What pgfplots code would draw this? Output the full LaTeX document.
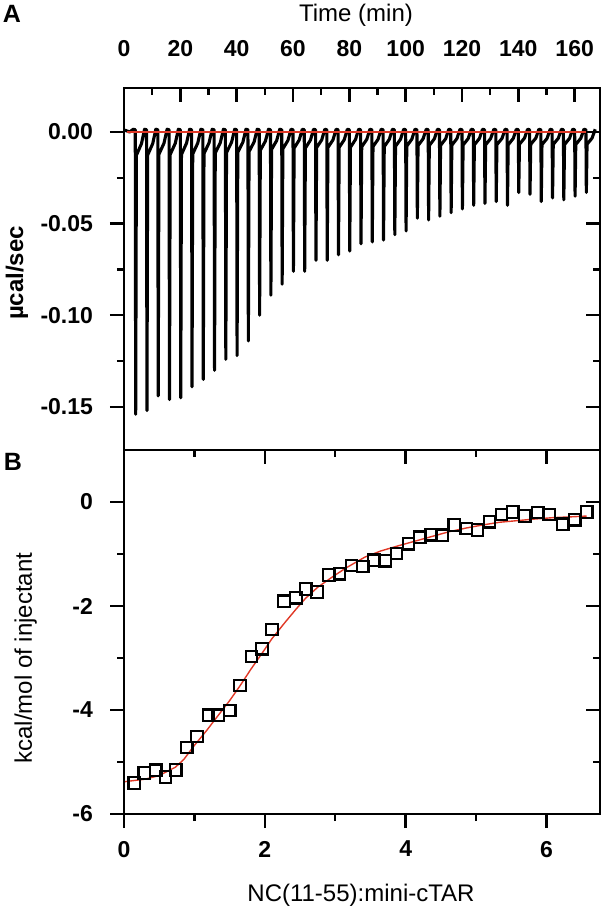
\documentclass[border=0pt]{standalone}
\usepackage{fontspec}
\setmainfont{Liberation Sans}
\usepackage{pgfplots}
\pgfplotsset{compat=1.18}
\definecolor{fitred}{rgb}{0.88,0.22,0.15}

\pgfplotstableread{
t y
0.30 0.0010
2.00 0.0000
3.30 0.0015
4.00 0.0012
4.15 -0.154
4.40 -0.0127
6.20 -0.0064
7.30 0.0015
8.00 0.0012
8.15 -0.152
8.40 -0.0126
10.20 -0.0063
11.30 0.0015
12.00 0.0012
12.15 -0.144
12.40 -0.0122
14.20 -0.0061
15.30 0.0015
16.00 0.0012
16.15 -0.146
16.40 -0.0123
18.20 -0.0062
19.30 0.0015
20.00 0.0012
20.15 -0.145
20.40 -0.0123
22.20 -0.0061
23.30 0.0015
24.00 0.0012
24.15 -0.139
24.40 -0.0120
26.20 -0.0060
27.30 0.0015
28.00 0.0012
28.15 -0.135
28.40 -0.0118
30.20 -0.0059
31.30 0.0015
32.00 0.0012
32.15 -0.130
32.40 -0.0115
34.20 -0.0058
35.30 0.0015
36.00 0.0012
36.15 -0.124
36.40 -0.0112
38.20 -0.0056
39.30 0.0015
40.00 0.0012
40.15 -0.122
40.40 -0.0111
42.20 -0.0056
43.30 0.0015
44.00 0.0012
44.15 -0.114
44.40 -0.0107
46.20 -0.0054
47.30 0.0015
48.00 0.0012
48.15 -0.100
48.40 -0.0100
50.20 -0.0050
51.30 0.0015
52.00 0.0012
52.15 -0.089
52.40 -0.0095
54.20 -0.0047
55.30 0.0015
56.00 0.0012
56.15 -0.083
56.40 -0.0092
58.20 -0.0046
59.30 0.0015
60.00 0.0012
60.15 -0.076
60.40 -0.0088
62.20 -0.0044
63.30 0.0015
64.00 0.0012
64.15 -0.076
64.40 -0.0088
66.20 -0.0044
67.30 0.0015
68.00 0.0012
68.15 -0.070
68.40 -0.0085
70.20 -0.0043
71.30 0.0015
72.00 0.0012
72.15 -0.070
72.40 -0.0085
74.20 -0.0043
75.30 0.0015
76.00 0.0012
76.15 -0.067
76.40 -0.0084
78.20 -0.0042
79.30 0.0015
80.00 0.0012
80.15 -0.065
80.40 -0.0083
82.20 -0.0041
83.30 0.0015
84.00 0.0012
84.15 -0.061
84.40 -0.0081
86.20 -0.0040
87.30 0.0015
88.00 0.0012
88.15 -0.060
88.40 -0.0080
90.20 -0.0040
91.30 0.0015
92.00 0.0012
92.15 -0.059
92.40 -0.0080
94.20 -0.0040
95.30 0.0015
96.00 0.0012
96.15 -0.056
96.40 -0.0078
98.20 -0.0039
99.30 0.0015
100.00 0.0012
100.15 -0.054
100.40 -0.0077
102.20 -0.0039
103.30 0.0015
104.00 0.0012
104.15 -0.047
104.40 -0.0074
106.20 -0.0037
107.30 0.0015
108.00 0.0012
108.15 -0.048
108.40 -0.0074
110.20 -0.0037
111.30 0.0015
112.00 0.0012
112.15 -0.046
112.40 -0.0073
114.20 -0.0037
115.30 0.0015
116.00 0.0012
116.15 -0.044
116.40 -0.0072
118.20 -0.0036
119.30 0.0015
120.00 0.0012
120.15 -0.042
120.40 -0.0071
122.20 -0.0036
123.30 0.0015
124.00 0.0012
124.15 -0.040
124.40 -0.0070
126.20 -0.0035
127.30 0.0015
128.00 0.0012
128.15 -0.039
128.40 -0.0070
130.20 -0.0035
131.30 0.0015
132.00 0.0012
132.15 -0.038
132.40 -0.0069
134.20 -0.0035
135.30 0.0015
136.00 0.0012
136.15 -0.040
136.40 -0.0070
138.20 -0.0035
139.30 0.0015
140.00 0.0012
140.15 -0.033
140.40 -0.0067
142.20 -0.0033
143.30 0.0015
144.00 0.0012
144.15 -0.034
144.40 -0.0067
146.20 -0.0034
147.30 0.0015
148.00 0.0012
148.15 -0.038
148.40 -0.0069
150.20 -0.0035
151.30 0.0015
152.00 0.0012
152.15 -0.036
152.40 -0.0068
154.20 -0.0034
155.30 0.0015
156.00 0.0012
156.15 -0.037
156.40 -0.0069
158.20 -0.0034
159.30 0.0015
160.00 0.0012
160.15 -0.035
160.40 -0.0068
162.20 -0.0034
163.30 0.0015
164.00 0.0012
164.15 -0.033
164.40 -0.0067
166.20 -0.0033
167.30 0.0015
}\rawtrace

\pgfplotstableread{
x y
0.147 -5.40
0.289 -5.21
0.450 -5.16
0.590 -5.29
0.735 -5.15
0.890 -4.72
1.035 -4.51
1.200 -4.10
1.340 -4.10
1.500 -4.01
1.650 -3.53
1.810 -2.97
1.960 -2.82
2.100 -2.45
2.270 -1.91
2.440 -1.84
2.580 -1.67
2.740 -1.73
2.910 -1.40
3.060 -1.38
3.230 -1.22
3.390 -1.24
3.550 -1.12
3.710 -1.13
3.870 -0.99
4.040 -0.80
4.200 -0.68
4.360 -0.63
4.520 -0.64
4.690 -0.44
4.860 -0.51
5.020 -0.54
5.190 -0.38
5.360 -0.24
5.520 -0.19
5.690 -0.27
5.880 -0.20
6.040 -0.24
6.230 -0.43
6.400 -0.34
6.570 -0.19
}\heats

\pgfplotstableread{
x y
0.00 -5.38
0.30 -5.33
0.50 -5.26
0.73 -5.10
0.85 -4.95
1.00 -4.68
1.17 -4.40
1.34 -4.10
1.50 -3.82
1.65 -3.53
1.80 -3.22
1.95 -2.93
2.10 -2.63
2.29 -2.31
2.45 -2.05
2.58 -1.85
2.75 -1.64
2.95 -1.45
3.15 -1.27
3.42 -1.06
3.65 -0.94
3.90 -0.84
4.14 -0.75
4.38 -0.66
4.62 -0.57
4.86 -0.50
5.10 -0.44
5.33 -0.39
5.57 -0.36
5.81 -0.33
6.10 -0.30
6.35 -0.285
6.57 -0.27
}\fit

\begin{document}
\begin{tikzpicture}
\path[use as bounding box] (0pt,0pt) rectangle (304pt,-457pt);
\pgfplotsset{
  every axis/.append style={
    scale only axis, width=238pt,
    axis line style={line width=1.2pt},
    every tick/.style={line width=1.2pt, black},
    major tick length=7pt, minor tick length=3.5pt,
    ticklabel style={font=\fontsize{11.5}{13}\selectfont\bfseries},
    /pgf/number format/assume math mode=true,
    clip=true,
  }
}
% ---------- Panel A ----------
\begin{axis}[at={(62pt,-225pt)}, anchor=south west, height=181pt,
  xmin=0, xmax=169, ymin=-0.1735, ymax=0.024,
  xtick={0,20,...,160}, minor xtick={10,30,...,150},
  xtick pos=right, xticklabel pos=right, xtick align=inside,
  xticklabel style={yshift=12pt},
  ytick={-0.15,-0.10,-0.05,0}, yticklabels={-0.15,-0.10,-0.05,0.00},
  minor ytick={-0.125,-0.075,-0.025},
  ytick pos=left, ytick align=outside,
  yticklabel style={xshift=-5pt},
]
\addplot[black, line width=1.55pt, line join=round] table[x=t,y=y] {\rawtrace};
\addplot[fitred, line width=1.1pt] coordinates {(1,0) (166.2,0)};
\end{axis}
\begin{axis}[at={(62pt,-225pt)}, anchor=south west, height=181pt,
  xmin=0, xmax=169, ymin=-0.1735, ymax=0.024,
  xtick=\empty,
  ytick={-0.15,-0.10,-0.05,0}, minor ytick={-0.125,-0.075,-0.025},
  yticklabels={}, ytick pos=right, ytick align=inside,
]
\end{axis}
% ---------- Panel B ----------
\begin{axis}[at={(62pt,-407pt)}, anchor=south west, height=182pt,
  xmin=0, xmax=6.76, ymin=-6, ymax=1,
  xtick={0,2,4,6}, minor xtick={1,3,5},
  xtick pos=left, xtick align=outside,
  xticklabel style={yshift=-3pt},
  ytick={-6,-4,-2,0}, minor ytick={-5,-3,-1},
  ytick pos=left, ytick align=outside,
  yticklabel style={xshift=-5pt},
]
\addplot[only marks, mark=square, mark size=2.9pt, mark options={line width=1.1pt, black, solid}] table[x=x,y=y] {\heats};
\addplot[fitred, line width=0.7pt] table[x=x,y=y] {\fit};
\end{axis}
\begin{axis}[at={(62pt,-407pt)}, anchor=south west, height=182pt,
  xmin=0, xmax=6.76, ymin=-6, ymax=1,
  xtick={0,2,4,6}, minor xtick={1,3,5}, xticklabels={},
  xtick pos=right, xtick align=inside,
  ytick={-6,-4,-2,0}, minor ytick={-5,-3,-1}, yticklabels={},
  ytick pos=right, ytick align=inside,
]
\end{axis}
% ---------- labels ----------
\node[font=\fontsize{12.5}{14}\selectfont\bfseries] at (6pt,-7pt) {A};
\node[font=\fontsize{12.5}{14}\selectfont\bfseries] at (6.5pt,-231pt) {B};
\node[font=\fontsize{12}{14}\selectfont] at (178pt,-7.5pt) {Time (min)};
\node[font=\fontsize{12}{14}\selectfont\bfseries, rotate=90] at (8.5pt,-136.5pt) {µcal/sec};
\node[font=\fontsize{12}{14}\selectfont, rotate=90] at (12.8pt,-329pt) {kcal/mol of injectant};
\node[font=\fontsize{12}{14}\selectfont] at (180.5pt,-447.5pt) {NC(11-55):mini-cTAR};
\end{tikzpicture}
\end{document}
